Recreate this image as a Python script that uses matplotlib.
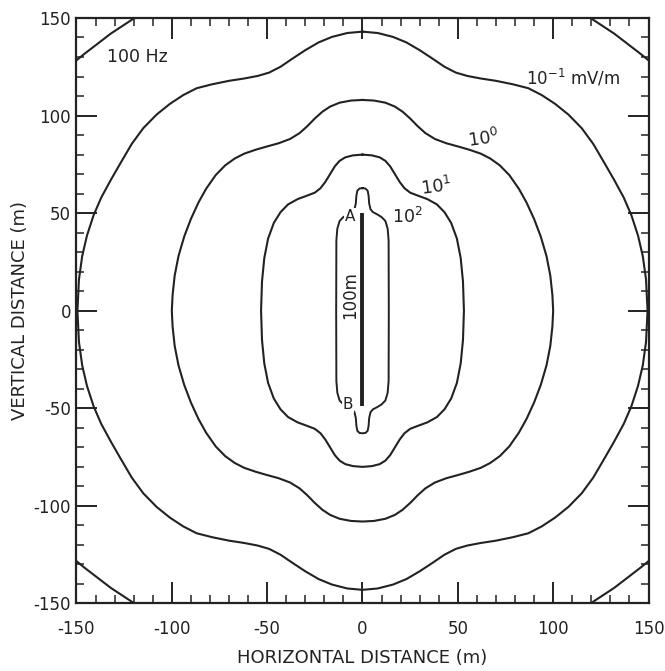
import numpy as np
import matplotlib
matplotlib.use("Agg")
import matplotlib.pyplot as plt
from matplotlib.ticker import MultipleLocator, FixedLocator, FixedFormatter

# ---- data: first-quadrant outlines of each iso-field contour (m) ----
# 10^-1 mV/m
c_m1_x = [0, 8, 16, 23, 30, 37, 43, 49, 55, 62, 70, 79, 87, 94, 101, 108, 115, 121, 127, 132, 137, 141, 144.5, 147, 148.7, 149.5]
c_m1_y = [143, 142.3, 140.3, 137.5, 133.5, 129, 125, 122, 120.3, 119, 117.8, 116, 114, 110.5, 106, 100.5, 93.5, 85.5, 75.5, 67, 58, 49, 38.5, 28, 16, 0]
# 10^0 mV/m
c_0_x = [0, 6, 12, 17, 21, 25, 29, 33, 38, 44, 50, 56, 62, 67, 72, 77, 82, 86, 90, 93.5, 96.5, 98.5, 99.6, 100]
c_0_y = [108, 107.7, 106.6, 104.6, 102, 98.5, 94.5, 91, 88, 85.8, 84.2, 82.5, 80.5, 78, 74.5, 69.5, 62.5, 55.5, 47, 38, 28, 18, 8, 0]
# 10^1 mV/m
c_1_x = [0, 5, 9, 12, 14.5, 17, 19.5, 22, 25, 29, 34, 39, 43, 46.5, 49.5, 51.5, 52.7, 53.2]
c_1_y = [80, 79.6, 78.6, 76.8, 74, 70, 66, 62.8, 60.5, 59, 57.2, 54.5, 50.5, 45, 37, 27, 15, 0]
# 10^2 mV/m
c_2_x = [0, 1.6, 2.7, 3.2, 3.5, 4.2, 5.5, 7.5, 10, 12, 13.2, 13.7, 13.8]
c_2_y = [62.8, 62.6, 61.5, 59, 55, 52, 50.5, 49.5, 48, 46, 42, 36, 0]
# unlabeled corner contour (one corner)
corner_x = [118, 125, 132, 140, 146, 151]
corner_y = [151, 146.5, 142, 136, 131.5, 127.5]

# wire A-B
wire_x = [0, 0]
wire_y = [-49, 50]

tick_vals = [-150, -100, -50, 0, 50, 100, 150]
tick_labels = ["-150", "-100", "-50", "0", "50", "100", "150"]


def full_curve(qx, qy):
    qx = np.asarray(qx, float)
    qy = np.asarray(qy, float)
    x = np.concatenate([qx, qx[::-1], -qx, -qx[::-1]])
    y = np.concatenate([qy, -qy[::-1], -qy, qy[::-1]])
    return x, y


fig = plt.figure(figsize=(6.65, 6.71), dpi=100)
ax = fig.add_axes([0.1150, 0.1006, 0.8602, 0.8726])

lc = "#222222"
for qx, qy, lw in [(c_m1_x, c_m1_y, 1.5), (c_0_x, c_0_y, 1.5), (c_1_x, c_1_y, 1.5), (c_2_x, c_2_y, 1.4)]:
    x, y = full_curve(qx, qy)
    ax.plot(x, y, color=lc, lw=lw, solid_joinstyle="round")

cx = np.asarray(corner_x, float)
cy = np.asarray(corner_y, float)
for sx, sy in [(1, 1), (-1, 1), (1, -1), (-1, -1)]:
    ax.plot(sx * cx, sy * cy, color=lc, lw=1.5)

ax.plot(wire_x, wire_y, color=lc, lw=2.8, solid_capstyle="butt")

ax.set_xlim(-150, 150)
ax.set_ylim(-150, 150)

for axis in (ax.xaxis, ax.yaxis):
    axis.set_major_locator(FixedLocator(tick_vals))
    axis.set_major_formatter(FixedFormatter(tick_labels))
    axis.set_minor_locator(MultipleLocator(10))

ax.tick_params(which="both", direction="in", top=True, right=True, color=lc)
ax.tick_params(which="major", length=15, width=1.4, labelsize=12, labelcolor=lc)
ax.tick_params(axis="x", which="major", pad=12)
ax.tick_params(axis="y", which="major", pad=4)
ax.tick_params(which="minor", length=5.5, width=1.1)
for s in ax.spines.values():
    s.set_linewidth(1.6)
    s.set_color(lc)

ax.set_xlabel("HORIZONTAL DISTANCE (m)", fontsize=13, color=lc, labelpad=8)
ax.set_ylabel("VERTICAL DISTANCE (m)", fontsize=13, color=lc, labelpad=3)

tk = dict(color=lc)
ax.text(-134, 127.6, "100 Hz", fontsize=12.5, ha="left", va="baseline", **tk)
ax.text(86, 115.7, r"$10^{-1}$ mV/m", fontsize=12, ha="left", va="baseline", **tk)
ax.text(54.5, 84, r"$10^{0}$", fontsize=12.5, ha="left", va="baseline", rotation=8, **tk)
ax.text(30, 59.4, r"$10^{1}$", fontsize=12.5, ha="left", va="baseline", rotation=8, **tk)
ax.text(15.5, 45, r"$10^{2}$", fontsize=12.5, ha="left", va="baseline", **tk)
ax.text(-6.7, 48.3, "A", fontsize=11, ha="center", va="center", zorder=5,
        bbox=dict(facecolor="white", edgecolor="none", pad=0.6), **tk)
ax.text(-7.5, -48, "B", fontsize=11, ha="center", va="center", zorder=5,
        bbox=dict(facecolor="white", edgecolor="none", pad=0.6), **tk)
ax.text(-6.5, 8, "100m", fontsize=12, ha="center", va="center", rotation=90, **tk)

fig.savefig("out.png", dpi=100)
